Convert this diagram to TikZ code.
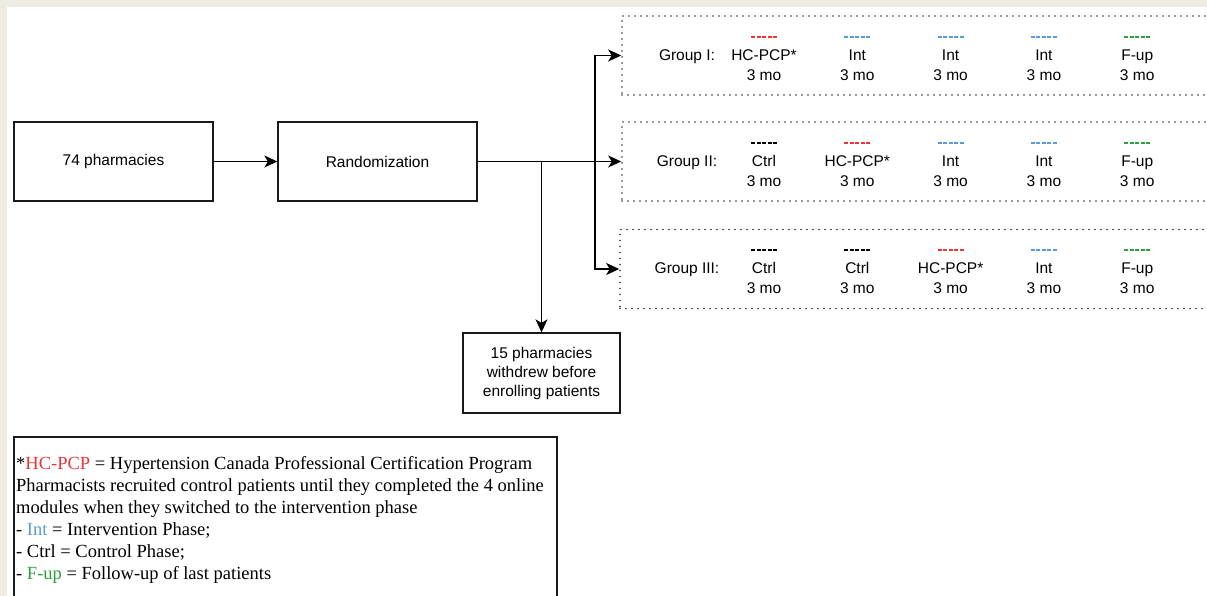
\documentclass[tikz,border=0pt]{standalone}
\usepackage{fontspec}
\setmainfont{Liberation Serif}
\setsansfont{Liberation Sans}
\usetikzlibrary{arrows.meta}
\definecolor{paper}{HTML}{EEEBE1}
\definecolor{hcred}{HTML}{E8363A}
\definecolor{intblue}{HTML}{5A9AD8}
\definecolor{fupgreen}{HTML}{2E9E3F}
\tikzset{
  box/.style={draw=black!90,line width=1.3pt,minimum width=199pt,minimum height=79pt,
    font=\sffamily\fontsize{15.5}{19}\selectfont,align=center},
  grpbox/.style={draw=black!80,line width=1.6pt,line cap=round,dash pattern=on 0pt off 6pt,
    minimum width=600pt,minimum height=79pt},
  txt/.style={font=\sffamily\fontsize{15.5}{19}\selectfont,inner sep=0pt},
  phasebar/.style={line width=2pt,dash pattern=on 4pt off 1.5pt},
  arr/.style={line width=1.4pt,-{Stealth[length=13pt,width=12pt,inset=3.5pt]}}
}
\begin{document}
\begin{tikzpicture}[x=1pt,y=-1pt]
\useasboundingbox (0,0) rectangle (1207,596);
\clip (0,0) rectangle (1207,596);
\fill[paper] (0,0) rectangle (1207,7);
\fill[paper] (0,0) rectangle (7,596);

% main flow
\node[box] (pharm) at (113.5,161.5) {74 pharmacies};
\node[box] (rand) at (377.5,161.5) {Randomization};
\node[box,minimum width=157pt,minimum height=80pt] (withdrew) at (541.5,373) {15 pharmacies\\withdrew before\\enrolling patients};

% groups
\node[grpbox] (grp1) at (922,55.5) {};
\node[grpbox] (grp2) at (922,161.5) {};
\node[grpbox] (grp3) at (920,269) {};
\node[txt,anchor=base] (lab1) at (687,61) {Group I:};
\node[txt,anchor=base] (lab2) at (687,166.5) {Group II:};
\node[txt,anchor=base] (lab3) at (687,273.5) {Group III:};

\foreach \ph/\col [count=\i from 0] in {HC-PCP*/hcred,Int/intblue,Int/intblue,Int/intblue,F-up/fupgreen}{
  \draw[phasebar,\col] (764+93.3*\i-13,37.5) -- ++(26,0);
  \node[txt,anchor=base] (ga\i) at (764+93.3*\i,61) {\ph};
  \node[txt,anchor=base] (gam\i) at (764+93.3*\i,81) {3 mo};
}
\foreach \ph/\col [count=\i from 0] in {Ctrl/black,HC-PCP*/hcred,Int/intblue,Int/intblue,F-up/fupgreen}{
  \draw[phasebar,\col] (764+93.3*\i-13,143.5) -- ++(26,0);
  \node[txt,anchor=base] (gb\i) at (764+93.3*\i,167) {\ph};
  \node[txt,anchor=base] (gbm\i) at (764+93.3*\i,187) {3 mo};
}
\foreach \ph/\col [count=\i from 0] in {Ctrl/black,Ctrl/black,HC-PCP*/hcred,Int/intblue,F-up/fupgreen}{
  \draw[phasebar,\col] (764+93.3*\i-13,250) -- ++(26,0);
  \node[txt,anchor=base] (gc\i) at (764+93.3*\i,273.5) {\ph};
  \node[txt,anchor=base] (gcm\i) at (764+93.3*\i,293.5) {3 mo};
}

% connectors
\coordinate (fork) at (595,161.5);
\draw[arr] (pharm) -- (rand);
\draw[arr] (rand) -- (grp2);
\draw[arr] (fork) |- (grp1.west);
\draw[arr] (fork) |- (grp3.west);
\draw[arr] (withdrew.north |- rand.east) -- (withdrew.north);

% legend
\draw[line width=1.3pt,black!90] (14,437) rectangle (557,620);
\node[anchor=north west,inner sep=0pt,align=left,font=\fontsize{18.5}{22}\selectfont] (legend) at (16,456.5)
{*\textcolor{hcred}{HC-PCP} = Hypertension Canada Professional Certification Program\\
Pharmacists recruited control patients until they completed the 4 online\\
modules when they switched to the intervention phase\\
- \textcolor{intblue}{Int} = Intervention Phase;\\
- Ctrl = Control Phase;\\
- \textcolor{fupgreen}{F-up} = Follow-up of last patients};

\end{tikzpicture}
\end{document}
